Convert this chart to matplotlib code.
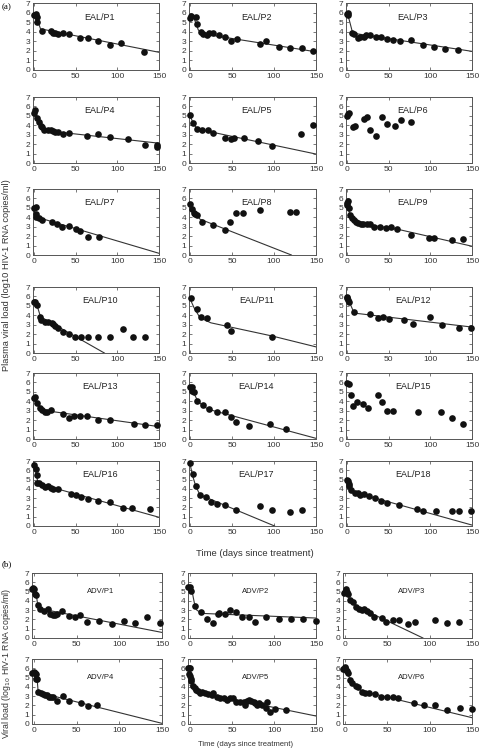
import matplotlib
matplotlib.use("Agg")
import matplotlib.pyplot as plt

plt.rcParams["font.family"] = ["Liberation Sans", "DejaVu Sans"]

# ---------- data: (day, log10 viral load) ----------
eal_p1 = [(0, 5.7), (2, 5.8), (3.5, 5.5), (4.3, 5.0), (9.5, 4.1), (20.5, 4.06), (23.3, 3.9),
          (25.7, 3.85), (28.4, 3.75), (34.7, 3.9), (41.8, 3.8), (55.7, 3.3), (64.7, 3.3),
          (77, 3.05), (91.2, 2.6), (105, 2.8), (132, 1.9)]
eal_p1_fit = [(0, 5.8), (4, 5.3), (8, 4.3), (150, 1.85)]

eal_p2 = [(0, 5.45), (1, 5.6), (7, 5.5), (8.7, 4.8), (13, 4.0), (15.5, 3.75), (20, 3.7),
          (23, 3.85), (28, 3.9), (34.5, 3.7), (41.7, 3.4), (48.4, 3.05), (56, 3.2),
          (83.7, 2.7), (90.5, 3.0), (106, 2.4), (118.6, 2.35), (133, 2.3), (147, 1.95)]
eal_p2_fit = [(0, 5.6), (5, 5.4), (10, 4.2), (14, 3.8), (150, 1.9)]

eal_p3 = [(0, 5.9), (0.8, 6.0), (1.6, 5.7), (6.7, 3.85), (9, 3.8), (13.5, 3.3), (16, 3.5),
          (20.6, 3.4), (22.5, 3.65), (28, 3.65), (34.8, 3.45), (41.5, 3.5), (48.7, 3.2),
          (55.8, 3.1), (63.3, 3.0), (76.8, 3.1), (91, 2.6), (104.5, 2.4), (118, 2.2), (133, 2.05)]
eal_p3_fit = [(0, 6.0), (3, 5.2), (7, 3.85), (150, 1.95)]

eal_p4 = [(0, 5.3), (1.2, 5.6), (3.5, 4.8), (6.7, 4.3), (8.3, 3.9), (9.5, 3.8), (12.6, 3.5),
          (16.6, 3.5), (20.5, 3.5), (23.3, 3.4), (25.7, 3.3), (28.4, 3.25), (34.7, 3.1),
          (41.8, 3.2), (63.5, 2.9), (77, 3.05), (91, 2.75), (112.5, 2.5), (133, 1.95),
          (147.6, 1.9), (148, 1.75)]
eal_p4_fit = [(0, 5.5), (3, 5.1), (8, 4.1), (12, 3.45), (150, 2.1)]

eal_p5 = [(0, 5.05), (3.6, 4.2), (8.3, 3.6), (14.3, 3.45), (21, 3.45), (27.8, 3.15),
          (41.7, 2.7), (48.4, 2.5), (52.8, 2.65), (63.9, 2.6), (81.3, 2.3), (97.2, 1.85),
          (132.5, 3.1), (146.8, 4.0)]
eal_p5_fit = [(0, 5.1), (4, 4.2), (9, 3.6), (150, 0.95)]

eal_p6 = [(0, 5.0), (1.2, 5.2), (2.8, 5.3), (7, 3.8), (10, 3.9), (20.6, 4.65), (24, 4.9),
          (27.7, 3.5), (34.8, 2.9), (42.3, 4.85), (48.7, 4.1), (58, 3.9), (65, 4.55), (77, 4.4)]
eal_p6_fit = []

eal_p7 = [(0, 5.0), (2, 5.1), (2.4, 4.4), (2.8, 4.05), (6.3, 3.9), (9.9, 3.7), (21.7, 3.5),
          (27.6, 3.27), (34.3, 3.0), (42.2, 3.1), (50, 2.8), (55.7, 2.5), (64.7, 1.95), (77.8, 1.9)]
eal_p7_fit = [(0, 4.7), (3, 4.2), (8, 3.9), (150, 0.18)]

eal_p8 = [(0, 5.45), (2.4, 4.9), (4.4, 4.45), (6.3, 4.35), (8.7, 4.26), (14.2, 3.45),
          (28, 3.2), (42, 2.6), (48.3, 3.5), (55.4, 4.5), (63.3, 4.5), (84, 4.8),
          (119.5, 4.6), (126, 4.55)]
eal_p8_fit = [(0, 5.4), (5, 4.6), (12, 3.8), (120.7, 0)]

eal_p9 = [(0, 5.35), (0.3, 5.5), (1.2, 5.7), (2, 4.95), (4, 4.25), (6, 3.9), (8.3, 3.73),
          (11, 3.55), (13.8, 3.37), (17.4, 3.27), (19, 3.34), (24.5, 3.3), (27.7, 3.27),
          (32.5, 2.95), (39.6, 3.0), (46.7, 2.84), (53.4, 2.95), (60.6, 2.74), (77, 2.17),
          (98, 1.78), (105, 1.78), (126, 1.63), (139.7, 1.7)]
eal_p9_fit = [(0, 5.6), (3, 4.5), (7, 3.85), (15, 3.45), (30, 3.15), (60, 2.75), (150, 0.93)]

eal_p10 = [(0, 5.36), (1.2, 5.36), (3.2, 5.07), (7, 3.86), (9, 3.46), (13.4, 3.29), (17, 3.32),
           (21.3, 3.2), (23.3, 3.07), (25.7, 2.86), (28.4, 2.6), (34.7, 2.28), (41.8, 2.03),
           (49, 1.7), (56.4, 1.7), (65, 1.7), (77, 1.73), (91, 1.7), (106.6, 2.5),
           (118.4, 1.7), (133.8, 1.7)]
eal_p10_fit = [(0, 5.4), (4, 5.0), (8, 3.85), (84.5, 0)]

eal_p11 = [(0.8, 5.79), (9.1, 4.68), (13, 3.86), (20.6, 3.68), (44.7, 2.93), (48.7, 2.36), (98, 1.75)]
eal_p11_fit = [(0, 5.8), (5, 4.8), (12, 3.75), (25, 3.2), (98, 1.8), (150, 0.65)]

eal_p12 = [(0, 5.93), (0.4, 5.82), (1.2, 5.57), (2, 5.36), (8.7, 4.39), (28, 4.14), (36.8, 3.68),
           (43.9, 3.79), (50.7, 3.57), (68, 3.5), (78.8, 3.07), (99.7, 3.86), (114, 2.96),
           (134.6, 2.68), (148.8, 2.68)]
eal_p12_fit = [(0, 6.0), (4, 5.2), (8, 4.4), (12, 4.2), (150, 2.75)]

eal_p13 = [(0, 4.4), (1.6, 4.47), (3.9, 3.8), (7.1, 3.3), (10.3, 3.1), (13, 2.9), (16.2, 2.84),
           (20.9, 3.06), (34.7, 2.6), (41.8, 2.27), (48.5, 2.45), (55.7, 2.42), (63.5, 2.45),
           (77, 2.06), (91.2, 2.06), (120.4, 1.56), (133.4, 1.53), (147.6, 1.53)]
eal_p13_fit = [(0, 4.5), (4, 3.85), (8, 3.3), (15, 3.0), (150, 1.31)]

eal_p14 = [(0, 5.54), (2, 5.54), (2.8, 5.05), (5.5, 4.94), (9.1, 4.05), (15.8, 3.59),
           (22.6, 3.13), (31.7, 2.91), (42, 2.84), (48.7, 2.31), (55.4, 1.78), (70, 1.39),
           (95, 1.6), (114.8, 1.07)]
eal_p14_fit = [(0, 5.6), (4, 5.0), (9, 4.1), (15, 3.55), (22, 3.15), (150, 0.07)]

eal_p15 = [(0, 5.97), (2.8, 5.79), (4.7, 4.65), (7.5, 3.55), (11.9, 3.94), (19.8, 3.69),
           (25.7, 3.27), (37.2, 4.62), (41.6, 3.94), (48.3, 2.98), (55.8, 2.98), (84.7, 2.84),
           (112.8, 2.91), (125.9, 2.24), (139.7, 1.6)]
eal_p15_fit = []

eal_p16 = [(0, 6.57), (2, 6.1), (3.2, 5.53), (3.9, 4.67), (6.3, 4.6), (9.5, 4.42), (13, 4.2),
           (16.6, 4.31), (20.5, 4.09), (23.3, 4.02), (28.8, 3.95), (44.6, 3.41), (50.5, 3.37),
           (56.4, 3.09), (64.7, 2.94), (77.4, 2.66), (90.8, 2.55), (107, 1.9), (118, 1.9),
           (139.7, 1.83)]
eal_p16_fit = [(0, 6.6), (2, 6.0), (5, 4.6), (8, 4.5), (150, 0.94)]

eal_p17 = [(0, 6.75), (3.2, 5.6), (7.5, 4.34), (11.9, 3.3), (19, 3.09), (25, 2.58), (32.5, 2.33),
           (42, 2.23), (55.4, 1.72), (83.5, 2.12), (97.4, 1.72), (118.7, 1.54), (132.9, 1.69)]
eal_p17_fit = [(0, 6.8), (3, 5.5), (7, 4.3), (12, 3.35), (100.7, 0)]

eal_p18 = [(0, 4.95), (1.2, 4.88), (2, 4.52), (2.8, 4.31), (4.7, 3.88), (9.9, 3.59), (13.9, 3.52),
           (15.8, 3.37), (20.6, 3.45), (26.9, 3.23), (33.6, 2.98), (40.4, 2.66), (48.7, 2.51),
           (62.5, 2.3), (83.9, 1.83), (91, 1.65), (106.9, 1.65), (125.5, 1.65), (134.6, 1.65),
           (148.8, 1.65)]
eal_p18_fit = [(0, 5.0), (3, 4.2), (6, 3.8), (12, 3.55), (150, 0.1)]

adv_p1 = [(-2, 5.24), (-1.2, 5.38), (0.4, 5.3), (1.2, 4.7), (2, 4.6), (4.3, 3.55), (7.1, 3.12),
          (11, 2.9), (15.8, 3.07), (19, 2.57), (22, 2.5), (24.5, 2.5), (26.8, 2.54), (32.8, 2.93),
          (40.7, 2.4), (48.5, 2.22), (54, 2.44), (61.6, 1.72), (76.2, 1.87), (90.8, 1.47),
          (105, 1.8), (118.8, 1.62), (132.2, 2.3), (147.2, 1.62)]
adv_p1_fit = [(0, 5.4), (2, 5.0), (4, 3.7), (7, 3.15), (150, 0.6)]

adv_p2 = [(-2, 5.44), (0, 5.44), (1.2, 5.05), (5.6, 3.45), (12.4, 2.84), (20.5, 2.06),
          (27.7, 1.63), (33.7, 2.63), (34.5, 2.7), (41.7, 2.63), (48.1, 3.02), (55, 2.77),
          (62.2, 2.31), (69.8, 2.27), (77, 1.67), (91, 2.31), (105.9, 2.06), (119.9, 2.06),
          (135, 2.0), (149.6, 1.85)]
adv_p2_fit = [(0, 5.5), (2, 5.2), (5, 3.8), (8, 3.0), (14, 2.65), (150, 2.15)]

adv_p3 = [(-1.6, 4.89), (-0.4, 5.0), (1.2, 5.24), (2, 4.96), (3.6, 4.78), (5.6, 4.13),
          (9.6, 3.84), (12.4, 3.34), (16.8, 3.09), (19.6, 3.05), (22.8, 3.12), (25.6, 2.91),
          (29.6, 2.66), (34, 2.26), (43.2, 2.19), (48.4, 1.76), (56.8, 1.98), (63.2, 1.98),
          (74.8, 1.51), (82.4, 1.69), (106.4, 1.9), (120, 1.65), (135.2, 1.69)]
adv_p3_fit = [(0, 5.0), (3, 4.6), (7, 4.0), (15, 3.35), (92, 0)]

adv_p4 = [(-2, 5.46), (-0.4, 5.57), (1.2, 5.5), (2, 5.36), (2, 4.82), (3.9, 4.86), (5.1, 3.5),
          (7.5, 3.36), (9.9, 3.25), (12.2, 3.14), (14.6, 3.07), (17, 2.96), (20, 2.89),
          (22.5, 2.86), (27.2, 2.43), (33.9, 3.04), (41, 2.5), (54.9, 2.25), (62.8, 1.93),
          (73.8, 2.04)]
adv_p4_fit = [(0, 5.6), (3, 5.5), (4.5, 3.7), (10, 3.3), (150, 0.07)]

adv_p5 = [(-2, 6.04), (-1.2, 6.04), (0.4, 6.0), (-0.8, 5.39), (0.4, 5.14), (0.8, 4.86),
          (1.6, 4.68), (3.6, 4.07), (5.6, 3.9), (7.6, 3.71), (9.6, 3.54), (11.6, 3.36),
          (13.6, 3.43), (17.6, 3.29), (21.7, 3.18), (25.7, 3.11), (27.7, 3.29), (31.7, 2.93),
          (35.7, 2.82), (40.5, 2.79), (44.5, 2.61), (47.7, 2.75), (51.7, 2.79), (55, 2.39),
          (58.9, 2.36), (63.8, 2.36), (65, 2.04), (67.4, 2.46), (70.2, 2.61), (73, 2.43),
          (75.8, 2.32), (77.8, 2.25), (79.8, 2.04), (82.6, 2.21), (85.8, 2.07), (90.2, 1.71),
          (91.4, 2.36), (94.6, 1.32), (100.7, 1.57), (114.7, 1.46)]
adv_p5_fit = [(0, 4.15), (5, 3.8), (12, 3.4), (150, 0.86)]

adv_p6 = [(-2.4, 5.89), (-0.4, 6.18), (0.4, 6.04), (1.2, 5.86), (2, 5.68), (3.6, 5.46),
          (5.6, 4.75), (7.6, 4.39), (12.8, 4.04), (15.6, 3.96), (20.4, 3.43), (23.6, 3.39),
          (28, 3.29), (35.6, 3.21), (42, 2.96), (49.2, 2.86), (56.8, 2.86), (62.8, 2.79),
          (81.2, 2.21), (92.8, 2.04), (106.4, 2.04), (120.8, 1.46), (136, 1.68), (150, 1.64)]
adv_p6_fit = [(0, 6.1), (3, 5.5), (7, 4.5), (12, 4.0), (20, 3.55), (150, 0.68)]

eal_names = ["EAL/P%d" % i for i in range(1, 19)]
eal_data = [eal_p1, eal_p2, eal_p3, eal_p4, eal_p5, eal_p6, eal_p7, eal_p8, eal_p9,
            eal_p10, eal_p11, eal_p12, eal_p13, eal_p14, eal_p15, eal_p16, eal_p17, eal_p18]
eal_fits = [eal_p1_fit, eal_p2_fit, eal_p3_fit, eal_p4_fit, eal_p5_fit, eal_p6_fit,
            eal_p7_fit, eal_p8_fit, eal_p9_fit, eal_p10_fit, eal_p11_fit, eal_p12_fit,
            eal_p13_fit, eal_p14_fit, eal_p15_fit, eal_p16_fit, eal_p17_fit, eal_p18_fit]
adv_names = ["ADV/P%d" % i for i in range(1, 7)]
adv_data = [adv_p1, adv_p2, adv_p3, adv_p4, adv_p5, adv_p6]
adv_fits = [adv_p1_fit, adv_p2_fit, adv_p3_fit, adv_p4_fit, adv_p5_fit, adv_p6_fit]

# ---------- layout (pixels on a 480x750 canvas) ----------
W, H = 480, 750
eal_cols = [(33, 159), (189, 316), (346, 472)]
eal_rows = [(3, 70), (97, 163), (189, 255), (287, 353), (373, 439), (461, 526)]
adv_cols = [(32, 162), (188, 316), (343, 472)]
adv_rows = [(573, 638), (659, 724)]

fig = plt.figure(figsize=(W / 100, H / 100), dpi=100)


def panel(x0, x1, y0, y1, pts, fit, name, xmin, label_size, label_y):
    ax = fig.add_axes([x0 / W, 1 - y1 / H, (x1 - x0) / W, (y1 - y0) / H])
    if fit:
        ax.plot([p[0] for p in fit], [p[1] for p in fit], color="#333333", lw=0.8)
    ax.plot([p[0] for p in pts], [p[1] for p in pts], "o", color="#111111",
            ms=4.8, mew=0, clip_on=False, zorder=3)
    ax.set_xlim(xmin, 150)
    ax.set_ylim(0, 7)
    ax.set_xticks([0, 50, 100, 150])
    ax.set_yticks(range(8))
    ax.tick_params(direction="in", top=True, right=True, length=2.5, width=0.5,
                   labelsize=6, pad=2, colors="#444444", labelcolor="#333333")
    for s in ax.spines.values():
        s.set_color("#555555")
        s.set_linewidth(0.7)
    ax.text(0.53, label_y, name, transform=ax.transAxes, ha="center", va="center",
            fontsize=label_size, color="#222222")
    return ax


k = 0
for r in eal_rows:
    for c in eal_cols:
        panel(c[0], c[1], r[0], r[1], eal_data[k], eal_fits[k], eal_names[k], -1, 6.5, 0.79)
        k += 1

k = 0
for r in adv_rows:
    for c in adv_cols:
        panel(c[0], c[1], r[0], r[1], adv_data[k], adv_fits[k], adv_names[k], -2.5, 5.5, 0.71)
        k += 1

fig.text(2 / W, 1 - 7 / H, "(a)", family="Liberation Serif", fontsize=6.5, va="center")
fig.text(2 / W, 1 - 564 / H, "(b)", family="Liberation Serif", fontsize=6.5, va="center")
fig.text(7 / W, 1 - 275 / H, "Plasma viral load (log10 HIV-1 RNA copies/ml)",
         rotation=90, ha="center", va="center", fontsize=6.7, color="#333333")
fig.text(7 / W, 1 - 663 / H, "Viral load (log$_{10}$ HIV-1 RNA copies/ml)",
         rotation=90, ha="center", va="center", fontsize=6.3, color="#333333")
fig.text(255 / W, 1 - 553 / H, "Time (days since treatment)", ha="center", va="center",
         fontsize=6.8, color="#333333")
fig.text(246 / W, 1 - 744 / H, "Time (days since treatment)", ha="center", va="center",
         fontsize=5.5, color="#333333")

fig.savefig("out.png", dpi=100, facecolor="white")
